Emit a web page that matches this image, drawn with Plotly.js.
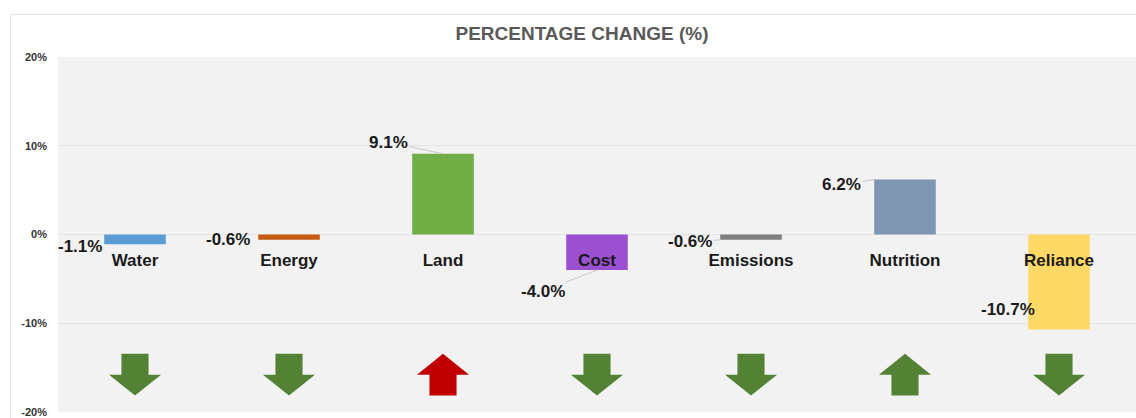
<!DOCTYPE html>
<html>
<head>
<meta charset="utf-8">
<script src="https://cdn.plot.ly/plotly-3.0.1.min.js"></script>
<style>
  html, body { margin: 0; padding: 0; background: #ffffff; }
  #chart { width: 1136px; height: 418px; }
</style>
</head>
<body>
<div id="chart"></div>
<script>
// ---- data ----
const categories = ['Water', 'Energy', 'Land', 'Cost', 'Emissions', 'Nutrition', 'Reliance'];
const values = [-1.1, -0.6, 9.1, -4.0, -0.6, 6.2, -10.7];
const barColors = ['#5b9bd5', '#c55a11', '#70ad47', '#9b4fd1', '#7f7f7f', '#7f96b2', '#ffd966'];
const arrowDirections = ['down', 'down', 'up', 'down', 'down', 'up', 'down'];
const arrowColors = ['#548235', '#548235', '#c00000', '#548235', '#548235', '#548235', '#548235'];
const yTickVals = [-20, -10, 0, 10, 20];

// ---- layout helpers (label placement, not data) ----
// [anchor offset in category units, showLeader, dx px, dy px (screen, down = +)]
const labelPlacement = [
  [0,    false, -55,    2.2],
  [0,    false, -61.5,  0],
  [0,    true,  -55,  -11.6],
  [0,    true,  -54,   21],
  [-0.2, true,  -30,    2],
  [-0.2, true,  -32.5,  5.5],
  [0,    false, -51.5, -19.8]
];

const idx = categories.map((c, i) => i);
const fontFam = '"Liberation Sans", Arial, sans-serif';

const barTrace = {
  type: 'bar',
  x: idx,
  y: values,
  width: 0.4,
  marker: { color: barColors, line: { width: 0 } },
  hoverinfo: 'skip',
  showlegend: false
};

const annotations = values.map((v, i) => {
  const p = labelPlacement[i];
  const txt = v.toFixed(1) + '%';
  const base = {
    x: i + p[0], y: v, xref: 'x', yref: 'y',
    text: txt,
    font: { family: fontFam, size: 17, color: '#1a1a1a', weight: 'bold' }
  };
  if (p[1]) {
    return Object.assign(base, {
      showarrow: true, arrowhead: 0, arrowwidth: 1, arrowcolor: '#c8c8c8',
      ax: p[2], ay: p[3], standoff: 0, startstandoff: 0
    });
  }
  return Object.assign(base, { showarrow: false, xshift: p[2], yshift: -p[3] });
});

// arrows under each category
const yTop = -13.45, yMid = -15.8, yBot = -18.15;
const headHalf = 0.169, stemHalf = 0.088;
const shapes = arrowDirections.map((d, i) => {
  let path;
  if (d === 'down') {
    path = `M ${i - stemHalf} ${yTop} L ${i + stemHalf} ${yTop} L ${i + stemHalf} ${yMid} L ${i + headHalf} ${yMid} L ${i} ${yBot} L ${i - headHalf} ${yMid} L ${i - stemHalf} ${yMid} Z`;
  } else {
    path = `M ${i - stemHalf} ${yBot} L ${i + stemHalf} ${yBot} L ${i + stemHalf} ${yMid} L ${i + headHalf} ${yMid} L ${i} ${yTop} L ${i - headHalf} ${yMid} L ${i - stemHalf} ${yMid} Z`;
  }
  return {
    type: 'path', xref: 'x', yref: 'y', path: path,
    fillcolor: arrowColors[i], line: { width: 0 }, layer: 'above'
  };
});

// outer frame
shapes.push({
  type: 'rect', xref: 'paper', yref: 'paper',
  x0: -0.0441, x1: 1.02, y0: -0.1, y1: 1.12,
  line: { color: '#e2e2e2', width: 1 }, fillcolor: 'rgba(0,0,0,0)', layer: 'below'
});

const layout = {
  width: 1136,
  height: 418,
  margin: { l: 58, r: 0, t: 57, b: 6, pad: 0 },
  paper_bgcolor: '#ffffff',
  plot_bgcolor: '#f2f2f2',
  showlegend: false,
  title: {
    text: 'PERCENTAGE CHANGE (%)',
    font: { family: fontFam, size: 19, color: '#595959', weight: 'bold' },
    x: 0.5123, xref: 'container', xanchor: 'center',
    y: 0.921, yref: 'container', yanchor: 'middle'
  },
  xaxis: {
    range: [-0.5, 6.5],
    tickmode: 'array',
    tickvals: idx,
    ticktext: categories,
    anchor: 'free',
    position: 0.5,
    showgrid: false,
    zeroline: false,
    showline: false,
    ticks: '',
    ticklabelstandoff: 13,
    tickfont: { family: fontFam, size: 17, color: '#1a1a1a', weight: 'bold' },
    fixedrange: true
  },
  yaxis: {
    range: [-20, 20],
    tickmode: 'array',
    tickvals: yTickVals,
    ticktext: yTickVals.map(v => v + '%'),
    showgrid: true,
    gridcolor: '#e3e3e3',
    gridwidth: 1,
    zeroline: false,
    showline: false,
    ticks: '',
    ticklabelstandoff: 10,
    ticklabeloverflow: 'allow',
    tickfont: { family: fontFam, size: 11, color: '#333333', weight: 'bold' },
    fixedrange: true
  },
  annotations: annotations,
  shapes: shapes,
  bargap: 0.6
};

Plotly.newPlot('chart', [barTrace], layout, { displayModeBar: false, staticPlot: true });
</script>
</body>
</html>
